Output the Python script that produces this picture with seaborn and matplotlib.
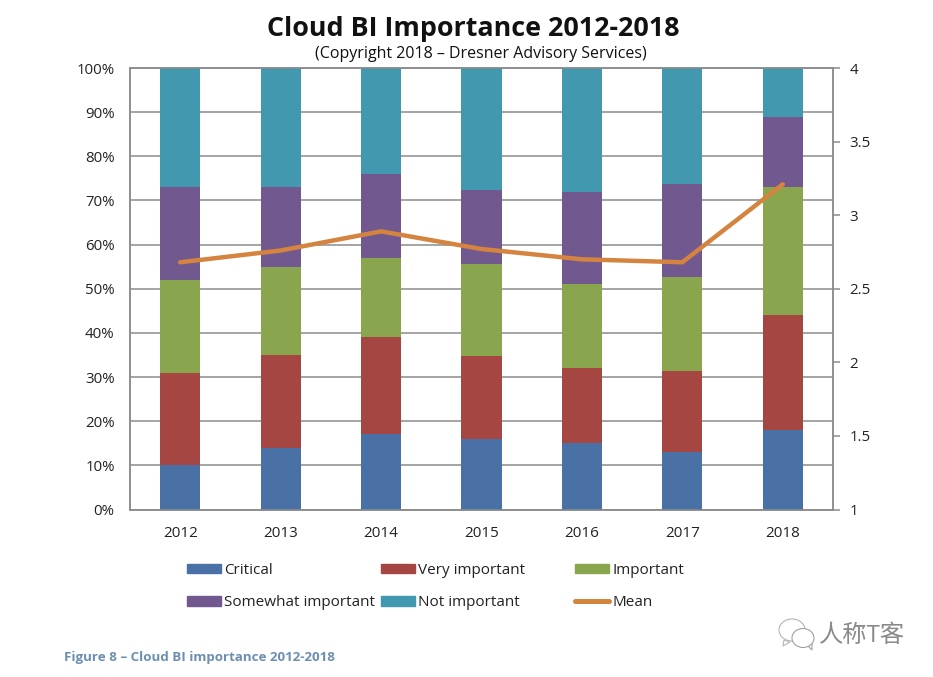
import numpy as np
import seaborn as sns
import matplotlib
matplotlib.use('Agg')
import matplotlib.pyplot as plt
from matplotlib.patches import Patch, Ellipse, Polygon
from matplotlib.lines import Line2D

years = ['2012', '2013', '2014', '2015', '2016', '2017', '2018']
critical = [10, 14, 17, 16, 15, 13, 18]
very_important = [21, 21, 22, 18.7, 17, 18.3, 26]
important = [21, 20, 18, 21, 19, 21.4, 29]
somewhat_important = [21, 18, 19, 16.7, 21, 21, 16]
not_important = [27, 27, 24, 27.6, 28, 26.3, 11]
mean = [2.68, 2.76, 2.89, 2.77, 2.70, 2.68, 3.21]

names = ['Critical', 'Very important', 'Important', 'Somewhat important', 'Not important']
series = [critical, very_important, important, somewhat_important, not_important]
colors = ['#4A71A6', '#A64642', '#89A54E', '#71588F', '#4198AF']
mean_color = '#D4843E'
grid_color = '#8C8C8C'

sns.set_theme(style='white')
plt.rcParams['font.family'] = ['Open Sans', 'Noto Sans CJK SC', 'DejaVu Sans']

fig = plt.figure(figsize=(9.33, 6.77), dpi=100)
ax = fig.add_axes([130 / 933, 167.5 / 677, 703 / 933, 441.5 / 677])

# 堆叠柱
bottom = np.zeros(len(years))
for vals, c in zip(series, colors):
    sns.barplot(x=years, y=vals, bottom=bottom, color=c, saturation=1, width=0.4,
                linewidth=0, ax=ax, zorder=3, errorbar=None)
    bottom = bottom + np.array(vals)

ax.set_xlim(-0.5, 6.5)
ax.set_ylim(0, 100)
ax.set_yticks(range(0, 101, 10))
ax.set_yticklabels([f'{v}%' for v in range(0, 101, 10)], fontsize=10.8, color='#222222')
ax.tick_params(axis='x', labelsize=11, labelcolor='#222222', length=0, pad=12)
ax.tick_params(axis='y', length=0, pad=11)
ax.yaxis.grid(True, color=grid_color, linewidth=1.1, zorder=0)
ax.set_axisbelow(True)
for s in ax.spines.values():
    s.set_color(grid_color)
    s.set_linewidth(1.1)

# 右轴均值线
ax2 = ax.twinx()
sns.lineplot(x=years, y=mean, color=mean_color, linewidth=3.2, sort=False, ax=ax2,
             errorbar=None, zorder=5)
ax2.set_ylim(1, 4)
ax2.set_yticks([1, 1.5, 2, 2.5, 3, 3.5, 4])
ax2.set_yticklabels(['1', '1.5', '2', '2.5', '3', '3.5', '4'], fontsize=10.8, color='#222222')
ax2.tick_params(axis='y', length=5, width=1.1, color=grid_color, pad=7, right=True)
ax2.grid(False)
for s in ax2.spines.values():
    s.set_color(grid_color)
    s.set_linewidth(1.1)

# 标题
fig.text(473 / 933, 1 - 29.5 / 677, 'Cloud BI Importance 2012-2018', fontsize=19.4, fontweight='bold',
         ha='center', va='center', color='#111111')
fig.text(481 / 933, 1 - 54 / 677, '(Copyright 2018 – Dresner Advisory Services)', fontsize=11.5,
         ha='center', va='center', color='#111111')

# 图例分三列，各列位置不等宽
handles = [Patch(color=c) for c in colors]
handles.append(Line2D([], [], color=mean_color, linewidth=3.6, solid_capstyle='round'))
labels = names + ['Mean']
columns = [(0, 3, 187), (1, 4, 381), (2, 5, 575)]
for i, j, x in columns:
    leg = fig.legend([handles[i], handles[j]], [labels[i], labels[j]], loc='upper left',
                     bbox_to_anchor=(x / 933, 1 - 563 / 677), borderaxespad=0, borderpad=0,
                     frameon=False, fontsize=11, handlelength=2.25, handleheight=0.6,
                     handletextpad=0.18, labelspacing=1.12, labelcolor='#222222')

fig.text(64 / 933, 1 - 657 / 677, 'Figure 8 – Cloud BI importance 2012-2018', fontsize=9.6,
         fontweight='bold', ha='left', va='center', color='#6C8EB0')

# 水印
fig.text(819 / 933, 1 - 636 / 677, '人称T客', fontsize=17.5, ha='left', va='center', color='#8A8A8A')
wm = fig.add_axes([0, 0, 1, 1], facecolor='none')
wm.set_xlim(0, 933)
wm.set_ylim(677, 0)
wm.axis('off')
wm.add_patch(Polygon([[784, 640], [783, 646], [790, 642]], fc='white', ec='#B5B5B5', lw=0.8))
wm.add_patch(Ellipse((792, 630), 26, 22, fc='white', ec='#B5B5B5', lw=0.8))
wm.add_patch(Polygon([[807, 645], [812, 650], [812, 643]], fc='white', ec='#A0A0A0', lw=0.8))
wm.add_patch(Ellipse((803, 638), 22, 19, fc='white', ec='#A0A0A0', lw=0.8))

fig.savefig('out.png', dpi=100)
